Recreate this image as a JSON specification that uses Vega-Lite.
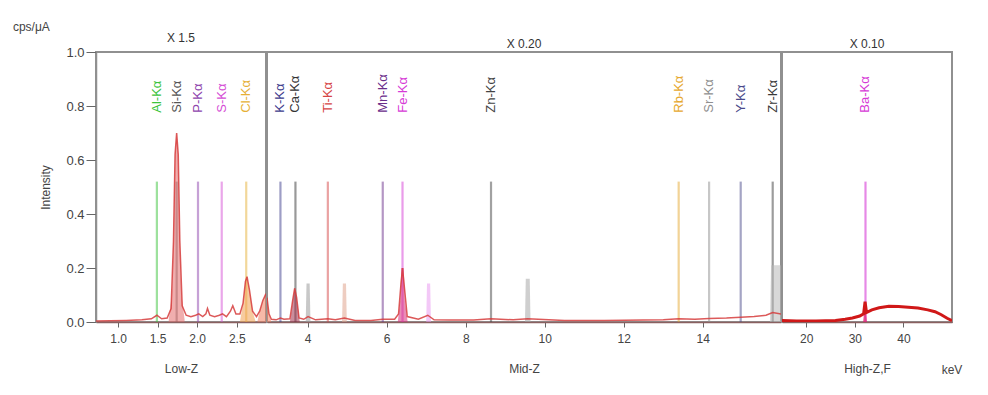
{
  "$schema": "https://vega.github.io/schema/vega-lite/v6.json",
  "padding": {"left": 12, "top": 21, "right": 10, "bottom": 5},
  "title": {"text": "cps/μA", "anchor": "start", "frame": "bounds", "dx": -26, "fontSize": 12, "fontWeight": "normal", "color": "#444", "offset": -3},
  "datasets": {
    "el": [
      {"p": "L", "x": 1.49, "lab": "Al-Kα"},
      {"p": "L", "x": 1.74, "lab": "Si-Kα"},
      {"p": "L", "x": 2.01, "lab": "P-Kα"},
      {"p": "L", "x": 2.31, "lab": "S-Kα"},
      {"p": "L", "x": 2.62, "lab": "Cl-Kα"},
      {"p": "M", "x": 3.31, "lab": "K-Kα"},
      {"p": "M", "x": 3.69, "lab": "Ca-Kα"},
      {"p": "M", "x": 4.51, "lab": "Ti-Kα"},
      {"p": "M", "x": 5.9, "lab": "Mn-Kα"},
      {"p": "M", "x": 6.4, "lab": "Fe-Kα"},
      {"p": "M", "x": 8.64, "lab": "Zn-Kα"},
      {"p": "M", "x": 13.39, "lab": "Rb-Kα"},
      {"p": "M", "x": 14.16, "lab": "Sr-Kα"},
      {"p": "M", "x": 14.96, "lab": "Y-Kα"},
      {"p": "M", "x": 15.77, "lab": "Zr-Kα"},
      {"p": "H", "x": 32.19, "lab": "Ba-Kα"}
    ],
    "pk": [
      {"p": "L", "k": "fSi", "x": 1.64, "y": 0.01},
      {"p": "L", "k": "fSi", "x": 1.68, "y": 0.1},
      {"p": "L", "k": "fSi", "x": 1.7, "y": 0.3},
      {"p": "L", "k": "fSi", "x": 1.72, "y": 0.62},
      {"p": "L", "k": "fSi", "x": 1.74, "y": 0.7},
      {"p": "L", "k": "fSi", "x": 1.76, "y": 0.62},
      {"p": "L", "k": "fSi", "x": 1.78, "y": 0.3},
      {"p": "L", "k": "fSi", "x": 1.8, "y": 0.1},
      {"p": "L", "k": "fSi", "x": 1.84, "y": 0.01},
      {"p": "L", "k": "fCl", "x": 2.54, "y": 0.0},
      {"p": "L", "k": "fCl", "x": 2.58, "y": 0.07},
      {"p": "L", "k": "fCl", "x": 2.61, "y": 0.15},
      {"p": "L", "k": "fCl", "x": 2.63, "y": 0.168},
      {"p": "L", "k": "fCl", "x": 2.66, "y": 0.12},
      {"p": "L", "k": "fCl", "x": 2.7, "y": 0.04},
      {"p": "L", "k": "fCl", "x": 2.74, "y": 0.0},
      {"p": "L", "k": "fEdge", "x": 2.76, "y": 0.0},
      {"p": "L", "k": "fEdge", "x": 2.79, "y": 0.04},
      {"p": "L", "k": "fEdge", "x": 2.83, "y": 0.08},
      {"p": "L", "k": "fEdge", "x": 2.87, "y": 0.105},
      {"p": "M", "k": "fEdge", "x": 2.97, "y": 0.09},
      {"p": "M", "k": "fEdge", "x": 3.02, "y": 0.03},
      {"p": "M", "k": "fEdge", "x": 3.08, "y": 0.0},
      {"p": "M", "k": "fCa", "x": 3.55, "y": 0.0},
      {"p": "M", "k": "fCa", "x": 3.62, "y": 0.08},
      {"p": "M", "k": "fCa", "x": 3.67, "y": 0.125},
      {"p": "M", "k": "fCa", "x": 3.72, "y": 0.09},
      {"p": "M", "k": "fCa", "x": 3.8, "y": 0.0},
      {"p": "M", "k": "fCaKb", "x": 3.95, "y": 0.0},
      {"p": "M", "k": "fCaKb", "x": 3.97, "y": 0.143},
      {"p": "M", "k": "fCaKb", "x": 4.05, "y": 0.143},
      {"p": "M", "k": "fCaKb", "x": 4.07, "y": 0.0},
      {"p": "M", "k": "fTiKb", "x": 4.87, "y": 0.0},
      {"p": "M", "k": "fTiKb", "x": 4.89, "y": 0.143},
      {"p": "M", "k": "fTiKb", "x": 4.97, "y": 0.143},
      {"p": "M", "k": "fTiKb", "x": 4.99, "y": 0.0},
      {"p": "M", "k": "fFe", "x": 6.28, "y": 0.0},
      {"p": "M", "k": "fFe", "x": 6.34, "y": 0.08},
      {"p": "M", "k": "fFe", "x": 6.37, "y": 0.2},
      {"p": "M", "k": "fFe", "x": 6.43, "y": 0.2},
      {"p": "M", "k": "fFe", "x": 6.46, "y": 0.08},
      {"p": "M", "k": "fFe", "x": 6.53, "y": 0.0},
      {"p": "M", "k": "fFeKb", "x": 7.0, "y": 0.0},
      {"p": "M", "k": "fFeKb", "x": 7.02, "y": 0.143},
      {"p": "M", "k": "fFeKb", "x": 7.1, "y": 0.143},
      {"p": "M", "k": "fFeKb", "x": 7.12, "y": 0.0},
      {"p": "M", "k": "fZnKb", "x": 9.5, "y": 0.0},
      {"p": "M", "k": "fZnKb", "x": 9.52, "y": 0.16},
      {"p": "M", "k": "fZnKb", "x": 9.62, "y": 0.16},
      {"p": "M", "k": "fZnKb", "x": 9.64, "y": 0.0},
      {"p": "M", "k": "fZr", "x": 15.7, "y": 0.0},
      {"p": "M", "k": "fZr", "x": 15.73, "y": 0.21},
      {"p": "M", "k": "fZr", "x": 15.98, "y": 0.21},
      {"p": "H", "k": "fBa", "x": 31.7, "y": 0.0},
      {"p": "H", "k": "fBa", "x": 32.1, "y": 0.075},
      {"p": "H", "k": "fBa", "x": 32.5, "y": 0.0}
    ],
    "sp": [
      {"p": "L", "x": 0.72, "y": 0.004},
      {"p": "L", "x": 0.9, "y": 0.005},
      {"p": "L", "x": 1.1, "y": 0.006},
      {"p": "L", "x": 1.3, "y": 0.008},
      {"p": "L", "x": 1.42, "y": 0.012},
      {"p": "L", "x": 1.49, "y": 0.025},
      {"p": "L", "x": 1.55, "y": 0.012},
      {"p": "L", "x": 1.62, "y": 0.015},
      {"p": "L", "x": 1.67, "y": 0.05},
      {"p": "L", "x": 1.7, "y": 0.3},
      {"p": "L", "x": 1.72, "y": 0.62},
      {"p": "L", "x": 1.74, "y": 0.7},
      {"p": "L", "x": 1.76, "y": 0.62},
      {"p": "L", "x": 1.78, "y": 0.3},
      {"p": "L", "x": 1.81, "y": 0.06},
      {"p": "L", "x": 1.86, "y": 0.025},
      {"p": "L", "x": 1.92, "y": 0.02},
      {"p": "L", "x": 1.98, "y": 0.025},
      {"p": "L", "x": 2.02, "y": 0.03},
      {"p": "L", "x": 2.07, "y": 0.02},
      {"p": "L", "x": 2.11, "y": 0.03},
      {"p": "L", "x": 2.13, "y": 0.05},
      {"p": "L", "x": 2.16, "y": 0.025},
      {"p": "L", "x": 2.22, "y": 0.02},
      {"p": "L", "x": 2.28, "y": 0.025},
      {"p": "L", "x": 2.32, "y": 0.03},
      {"p": "L", "x": 2.37, "y": 0.02},
      {"p": "L", "x": 2.42, "y": 0.04},
      {"p": "L", "x": 2.45, "y": 0.06},
      {"p": "L", "x": 2.49, "y": 0.03},
      {"p": "L", "x": 2.54, "y": 0.03},
      {"p": "L", "x": 2.58, "y": 0.07},
      {"p": "L", "x": 2.61, "y": 0.15},
      {"p": "L", "x": 2.63, "y": 0.168},
      {"p": "L", "x": 2.66, "y": 0.12},
      {"p": "L", "x": 2.7, "y": 0.04},
      {"p": "L", "x": 2.75, "y": 0.02},
      {"p": "L", "x": 2.79, "y": 0.04},
      {"p": "L", "x": 2.83, "y": 0.08},
      {"p": "L", "x": 2.87, "y": 0.105},
      {"p": "M", "x": 2.97, "y": 0.09},
      {"p": "M", "x": 3.02, "y": 0.03},
      {"p": "M", "x": 3.08, "y": 0.01},
      {"p": "M", "x": 3.2, "y": 0.008},
      {"p": "M", "x": 3.31, "y": 0.015},
      {"p": "M", "x": 3.4, "y": 0.01},
      {"p": "M", "x": 3.55, "y": 0.012},
      {"p": "M", "x": 3.62, "y": 0.08},
      {"p": "M", "x": 3.67, "y": 0.125},
      {"p": "M", "x": 3.72, "y": 0.09},
      {"p": "M", "x": 3.78, "y": 0.015},
      {"p": "M", "x": 3.9, "y": 0.01},
      {"p": "M", "x": 4.01, "y": 0.02},
      {"p": "M", "x": 4.2, "y": 0.008},
      {"p": "M", "x": 4.51, "y": 0.012},
      {"p": "M", "x": 4.7, "y": 0.008},
      {"p": "M", "x": 4.93, "y": 0.015},
      {"p": "M", "x": 5.2, "y": 0.006},
      {"p": "M", "x": 5.6, "y": 0.006},
      {"p": "M", "x": 5.9, "y": 0.01},
      {"p": "M", "x": 6.2, "y": 0.01},
      {"p": "M", "x": 6.3, "y": 0.03},
      {"p": "M", "x": 6.36, "y": 0.14},
      {"p": "M", "x": 6.4, "y": 0.2},
      {"p": "M", "x": 6.44, "y": 0.14},
      {"p": "M", "x": 6.52, "y": 0.02},
      {"p": "M", "x": 6.8, "y": 0.01},
      {"p": "M", "x": 7.04, "y": 0.025},
      {"p": "M", "x": 7.2, "y": 0.008},
      {"p": "M", "x": 7.6, "y": 0.007},
      {"p": "M", "x": 8.2, "y": 0.007},
      {"p": "M", "x": 8.64, "y": 0.012},
      {"p": "M", "x": 9.2, "y": 0.008},
      {"p": "M", "x": 9.57, "y": 0.012},
      {"p": "M", "x": 10.5, "y": 0.006},
      {"p": "M", "x": 11.5, "y": 0.006},
      {"p": "M", "x": 12.5, "y": 0.007},
      {"p": "M", "x": 13.0, "y": 0.008},
      {"p": "M", "x": 13.39, "y": 0.012},
      {"p": "M", "x": 13.8, "y": 0.01},
      {"p": "M", "x": 14.16, "y": 0.013},
      {"p": "M", "x": 14.6, "y": 0.015},
      {"p": "M", "x": 14.96, "y": 0.018},
      {"p": "M", "x": 15.3, "y": 0.02},
      {"p": "M", "x": 15.6, "y": 0.025},
      {"p": "M", "x": 15.77, "y": 0.035},
      {"p": "M", "x": 15.98, "y": 0.03},
      {"p": "H", "x": 15.0, "y": 0.006},
      {"p": "H", "x": 18.0, "y": 0.004},
      {"p": "H", "x": 22.0, "y": 0.004},
      {"p": "H", "x": 26.0, "y": 0.006},
      {"p": "H", "x": 28.0, "y": 0.01},
      {"p": "H", "x": 29.5, "y": 0.015},
      {"p": "H", "x": 31.0, "y": 0.022},
      {"p": "H", "x": 31.8, "y": 0.03},
      {"p": "H", "x": 32.1, "y": 0.075},
      {"p": "H", "x": 32.4, "y": 0.035},
      {"p": "H", "x": 33.5, "y": 0.045},
      {"p": "H", "x": 35.0, "y": 0.053},
      {"p": "H", "x": 37.0, "y": 0.058},
      {"p": "H", "x": 39.0, "y": 0.057},
      {"p": "H", "x": 41.0, "y": 0.055},
      {"p": "H", "x": 43.0, "y": 0.052},
      {"p": "H", "x": 45.0, "y": 0.045},
      {"p": "H", "x": 46.5, "y": 0.038},
      {"p": "H", "x": 47.8, "y": 0.027},
      {"p": "H", "x": 49.0, "y": 0.014},
      {"p": "H", "x": 50.0, "y": 0.005}
    ],
    "unit": [{"x": 50, "t": "keV"}]
  },
  "spacing": -2,
  "hconcat": [
    {
      "width": 170, "height": 270,
      "title": {"text": "X 1.5"},
      "layer": [
        {
          "data": {"name": "el"}, "transform": [{"filter": "datum.p == 'L'"}],
          "mark": {"type": "rule", "strokeWidth": 2.2, "opacity": 0.5},
          "encoding": {
            "x": {"field": "x", "type": "quantitative", "scale": {"domain": [0.72, 2.87], "nice": false, "zero": false}, "axis": {"title": "Low-Z", "values": [1.0, 1.5, 2.0, 2.5], "format": ".1f"}},
            "y": {"datum": 0, "type": "quantitative", "scale": {"domain": [0, 1], "nice": false}, "axis": {"title": "Intensity", "values": [0, 0.2, 0.4, 0.6, 0.8, 1.0], "format": ".1f", "tickSize": 10, "labelPadding": 2, "titlePadding": 13, "labelFontSize": 13}},
            "y2": {"datum": 0.52},
            "color": {"field": "lab", "type": "nominal", "legend": null, "scale": {"domain": ["Al-Kα","Si-Kα","P-Kα","S-Kα","Cl-Kα","K-Kα","Ca-Kα","Ti-Kα","Mn-Kα","Fe-Kα","Zn-Kα","Rb-Kα","Sr-Kα","Y-Kα","Zr-Kα","Ba-Kα","fSi","fCl","fEdge","fCa","fCaKb","fTiKb","fFe","fFeKb","fZnKb","fZr","fBa"], "range": ["#3cc43c","#555555","#8e44ad","#d54ed5","#e6b035","#3c3c8c","#333333","#d64545","#6a2d8a","#d63ad6","#444444","#e6a82e","#8f8f8f","#4a4a8a","#3a3a3a","#d63ad6","#e36b6b","#f0a050","#f08060","#a0304a","#9a9a9a","#e0a48e","#d82c7a","#ea9af0","#a8a8a8","#b8b8b8","#e0206a"]}}
          }
        },
        {
          "data": {"name": "pk"}, "transform": [{"filter": "datum.p == 'L'"}],
          "mark": {"type": "area", "opacity": 0.55, "clip": true},
          "encoding": {
            "x": {"field": "x", "type": "quantitative", "scale": {"domain": [0.72, 2.87], "nice": false, "zero": false}},
            "y": {"field": "y", "type": "quantitative", "stack": null, "scale": {"domain": [0, 1], "nice": false}},
            "color": {"field": "k", "type": "nominal", "legend": null, "scale": {"domain": ["Al-Kα","Si-Kα","P-Kα","S-Kα","Cl-Kα","K-Kα","Ca-Kα","Ti-Kα","Mn-Kα","Fe-Kα","Zn-Kα","Rb-Kα","Sr-Kα","Y-Kα","Zr-Kα","Ba-Kα","fSi","fCl","fEdge","fCa","fCaKb","fTiKb","fFe","fFeKb","fZnKb","fZr","fBa"], "range": ["#3cc43c","#555555","#8e44ad","#d54ed5","#e6b035","#3c3c8c","#333333","#d64545","#6a2d8a","#d63ad6","#444444","#e6a82e","#8f8f8f","#4a4a8a","#3a3a3a","#d63ad6","#e36b6b","#f0a050","#f08060","#a0304a","#9a9a9a","#e0a48e","#d82c7a","#ea9af0","#a8a8a8","#b8b8b8","#e0206a"]}}
          }
        },
        {
          "data": {"name": "sp"}, "transform": [{"filter": "datum.p == 'L'"}],
          "mark": {"type": "line", "color": "#d63c3c", "strokeWidth": 1.5, "opacity": 0.85, "clip": true},
          "encoding": {
            "x": {"field": "x", "type": "quantitative", "scale": {"domain": [0.72, 2.87], "nice": false, "zero": false}},
            "y": {"field": "y", "type": "quantitative", "scale": {"domain": [0, 1], "nice": false}}
          }
        },
        {
          "data": {"name": "el"}, "transform": [{"filter": "datum.p == 'L'"}],
          "mark": {"type": "text", "angle": 270, "align": "left", "baseline": "middle", "fontSize": 13},
          "encoding": {
            "x": {"field": "x", "type": "quantitative", "scale": {"domain": [0.72, 2.87], "nice": false, "zero": false}},
            "y": {"datum": 0.775, "type": "quantitative", "scale": {"domain": [0, 1], "nice": false}},
            "text": {"field": "lab"},
            "color": {"field": "lab", "type": "nominal", "legend": null, "scale": {"domain": ["Al-Kα","Si-Kα","P-Kα","S-Kα","Cl-Kα","K-Kα","Ca-Kα","Ti-Kα","Mn-Kα","Fe-Kα","Zn-Kα","Rb-Kα","Sr-Kα","Y-Kα","Zr-Kα","Ba-Kα","fSi","fCl","fEdge","fCa","fCaKb","fTiKb","fFe","fFeKb","fZnKb","fZr","fBa"], "range": ["#3cc43c","#555555","#8e44ad","#d54ed5","#e6b035","#3c3c8c","#333333","#d64545","#6a2d8a","#d63ad6","#444444","#e6a82e","#8f8f8f","#4a4a8a","#3a3a3a","#d63ad6","#e36b6b","#f0a050","#f08060","#a0304a","#9a9a9a","#e0a48e","#d82c7a","#ea9af0","#a8a8a8","#b8b8b8","#e0206a"]}}
          }
        }
      ]
    },
    {
      "width": 514, "height": 270,
      "title": {"text": "X 0.20"},
      "layer": [
        {
          "data": {"name": "el"}, "transform": [{"filter": "datum.p == 'M'"}],
          "mark": {"type": "rule", "strokeWidth": 2.2, "opacity": 0.5},
          "encoding": {
            "x": {"field": "x", "type": "quantitative", "scale": {"domain": [2.97, 15.98], "nice": false, "zero": false}, "axis": {"title": "Mid-Z", "values": [4, 6, 8, 10, 12, 14], "format": "d"}},
            "y": {"datum": 0, "type": "quantitative", "scale": {"domain": [0, 1], "nice": false}, "axis": null},
            "y2": {"datum": 0.52},
            "color": {"field": "lab", "type": "nominal", "legend": null, "scale": {"domain": ["Al-Kα","Si-Kα","P-Kα","S-Kα","Cl-Kα","K-Kα","Ca-Kα","Ti-Kα","Mn-Kα","Fe-Kα","Zn-Kα","Rb-Kα","Sr-Kα","Y-Kα","Zr-Kα","Ba-Kα","fSi","fCl","fEdge","fCa","fCaKb","fTiKb","fFe","fFeKb","fZnKb","fZr","fBa"], "range": ["#3cc43c","#555555","#8e44ad","#d54ed5","#e6b035","#3c3c8c","#333333","#d64545","#6a2d8a","#d63ad6","#444444","#e6a82e","#8f8f8f","#4a4a8a","#3a3a3a","#d63ad6","#e36b6b","#f0a050","#f08060","#a0304a","#9a9a9a","#e0a48e","#d82c7a","#ea9af0","#a8a8a8","#b8b8b8","#e0206a"]}}
          }
        },
        {
          "data": {"name": "pk"}, "transform": [{"filter": "datum.p == 'M'"}],
          "mark": {"type": "area", "opacity": 0.55, "clip": true},
          "encoding": {
            "x": {"field": "x", "type": "quantitative", "scale": {"domain": [2.97, 15.98], "nice": false, "zero": false}},
            "y": {"field": "y", "type": "quantitative", "stack": null, "scale": {"domain": [0, 1], "nice": false}},
            "color": {"field": "k", "type": "nominal", "legend": null, "scale": {"domain": ["Al-Kα","Si-Kα","P-Kα","S-Kα","Cl-Kα","K-Kα","Ca-Kα","Ti-Kα","Mn-Kα","Fe-Kα","Zn-Kα","Rb-Kα","Sr-Kα","Y-Kα","Zr-Kα","Ba-Kα","fSi","fCl","fEdge","fCa","fCaKb","fTiKb","fFe","fFeKb","fZnKb","fZr","fBa"], "range": ["#3cc43c","#555555","#8e44ad","#d54ed5","#e6b035","#3c3c8c","#333333","#d64545","#6a2d8a","#d63ad6","#444444","#e6a82e","#8f8f8f","#4a4a8a","#3a3a3a","#d63ad6","#e36b6b","#f0a050","#f08060","#a0304a","#9a9a9a","#e0a48e","#d82c7a","#ea9af0","#a8a8a8","#b8b8b8","#e0206a"]}}
          }
        },
        {
          "data": {"name": "sp"}, "transform": [{"filter": "datum.p == 'M'"}],
          "mark": {"type": "line", "color": "#d63c3c", "strokeWidth": 1.5, "opacity": 0.85, "clip": true},
          "encoding": {
            "x": {"field": "x", "type": "quantitative", "scale": {"domain": [2.97, 15.98], "nice": false, "zero": false}},
            "y": {"field": "y", "type": "quantitative", "scale": {"domain": [0, 1], "nice": false}}
          }
        },
        {
          "data": {"name": "el"}, "transform": [{"filter": "datum.p == 'M'"}],
          "mark": {"type": "text", "angle": 270, "align": "left", "baseline": "middle", "fontSize": 13},
          "encoding": {
            "x": {"field": "x", "type": "quantitative", "scale": {"domain": [2.97, 15.98], "nice": false, "zero": false}},
            "y": {"datum": 0.775, "type": "quantitative", "scale": {"domain": [0, 1], "nice": false}},
            "text": {"field": "lab"},
            "color": {"field": "lab", "type": "nominal", "legend": null, "scale": {"domain": ["Al-Kα","Si-Kα","P-Kα","S-Kα","Cl-Kα","K-Kα","Ca-Kα","Ti-Kα","Mn-Kα","Fe-Kα","Zn-Kα","Rb-Kα","Sr-Kα","Y-Kα","Zr-Kα","Ba-Kα","fSi","fCl","fEdge","fCa","fCaKb","fTiKb","fFe","fFeKb","fZnKb","fZr","fBa"], "range": ["#3cc43c","#555555","#8e44ad","#d54ed5","#e6b035","#3c3c8c","#333333","#d64545","#6a2d8a","#d63ad6","#444444","#e6a82e","#8f8f8f","#4a4a8a","#3a3a3a","#d63ad6","#e36b6b","#f0a050","#f08060","#a0304a","#9a9a9a","#e0a48e","#d82c7a","#ea9af0","#a8a8a8","#b8b8b8","#e0206a"]}}
          }
        }
      ]
    },
    {
      "width": 170, "height": 270,
      "title": {"text": "X 0.10"},
      "layer": [
        {
          "data": {"name": "el"}, "transform": [{"filter": "datum.p == 'H'"}],
          "mark": {"type": "rule", "strokeWidth": 2.2, "opacity": 0.6},
          "encoding": {
            "x": {"field": "x", "type": "quantitative", "scale": {"domain": [15, 50], "nice": false, "zero": false}, "axis": {"title": "High-Z,F", "values": [20, 30, 40], "format": "d"}},
            "y": {"datum": 0, "type": "quantitative", "scale": {"domain": [0, 1], "nice": false}, "axis": null},
            "y2": {"datum": 0.52},
            "color": {"field": "lab", "type": "nominal", "legend": null, "scale": {"domain": ["Al-Kα","Si-Kα","P-Kα","S-Kα","Cl-Kα","K-Kα","Ca-Kα","Ti-Kα","Mn-Kα","Fe-Kα","Zn-Kα","Rb-Kα","Sr-Kα","Y-Kα","Zr-Kα","Ba-Kα","fSi","fCl","fEdge","fCa","fCaKb","fTiKb","fFe","fFeKb","fZnKb","fZr","fBa"], "range": ["#3cc43c","#555555","#8e44ad","#d54ed5","#e6b035","#3c3c8c","#333333","#d64545","#6a2d8a","#d63ad6","#444444","#e6a82e","#8f8f8f","#4a4a8a","#3a3a3a","#d63ad6","#e36b6b","#f0a050","#f08060","#a0304a","#9a9a9a","#e0a48e","#d82c7a","#ea9af0","#a8a8a8","#b8b8b8","#e0206a"]}}
          }
        },
        {
          "data": {"name": "pk"}, "transform": [{"filter": "datum.p == 'H'"}],
          "mark": {"type": "area", "opacity": 0.7, "clip": true},
          "encoding": {
            "x": {"field": "x", "type": "quantitative", "scale": {"domain": [15, 50], "nice": false, "zero": false}},
            "y": {"field": "y", "type": "quantitative", "stack": null, "scale": {"domain": [0, 1], "nice": false}},
            "color": {"field": "k", "type": "nominal", "legend": null, "scale": {"domain": ["Al-Kα","Si-Kα","P-Kα","S-Kα","Cl-Kα","K-Kα","Ca-Kα","Ti-Kα","Mn-Kα","Fe-Kα","Zn-Kα","Rb-Kα","Sr-Kα","Y-Kα","Zr-Kα","Ba-Kα","fSi","fCl","fEdge","fCa","fCaKb","fTiKb","fFe","fFeKb","fZnKb","fZr","fBa"], "range": ["#3cc43c","#555555","#8e44ad","#d54ed5","#e6b035","#3c3c8c","#333333","#d64545","#6a2d8a","#d63ad6","#444444","#e6a82e","#8f8f8f","#4a4a8a","#3a3a3a","#d63ad6","#e36b6b","#f0a050","#f08060","#a0304a","#9a9a9a","#e0a48e","#d82c7a","#ea9af0","#a8a8a8","#b8b8b8","#e0206a"]}}
          }
        },
        {
          "data": {"name": "sp"}, "transform": [{"filter": "datum.p == 'H'"}],
          "mark": {"type": "line", "color": "#d01818", "strokeWidth": 3, "clip": true},
          "encoding": {
            "x": {"field": "x", "type": "quantitative", "scale": {"domain": [15, 50], "nice": false, "zero": false}},
            "y": {"field": "y", "type": "quantitative", "scale": {"domain": [0, 1], "nice": false}}
          }
        },
        {
          "data": {"name": "el"}, "transform": [{"filter": "datum.p == 'H'"}],
          "mark": {"type": "text", "angle": 270, "align": "left", "baseline": "middle", "fontSize": 13},
          "encoding": {
            "x": {"field": "x", "type": "quantitative", "scale": {"domain": [15, 50], "nice": false, "zero": false}},
            "y": {"datum": 0.775, "type": "quantitative", "scale": {"domain": [0, 1], "nice": false}},
            "text": {"field": "lab"},
            "color": {"field": "lab", "type": "nominal", "legend": null, "scale": {"domain": ["Al-Kα","Si-Kα","P-Kα","S-Kα","Cl-Kα","K-Kα","Ca-Kα","Ti-Kα","Mn-Kα","Fe-Kα","Zn-Kα","Rb-Kα","Sr-Kα","Y-Kα","Zr-Kα","Ba-Kα","fSi","fCl","fEdge","fCa","fCaKb","fTiKb","fFe","fFeKb","fZnKb","fZr","fBa"], "range": ["#3cc43c","#555555","#8e44ad","#d54ed5","#e6b035","#3c3c8c","#333333","#d64545","#6a2d8a","#d63ad6","#444444","#e6a82e","#8f8f8f","#4a4a8a","#3a3a3a","#d63ad6","#e36b6b","#f0a050","#f08060","#a0304a","#9a9a9a","#e0a48e","#d82c7a","#ea9af0","#a8a8a8","#b8b8b8","#e0206a"]}}
          }
        },
        {
          "data": {"name": "unit"},
          "mark": {"type": "text", "align": "center", "baseline": "middle", "dy": 48, "dx": 0, "fontSize": 12, "color": "#444"},
          "encoding": {
            "x": {"field": "x", "type": "quantitative", "scale": {"domain": [15, 50], "nice": false, "zero": false}},
            "y": {"datum": 0, "type": "quantitative", "scale": {"domain": [0, 1], "nice": false}},
            "text": {"field": "t"}
          }
        }
      ]
    }
  ],
  "config": {
    "font": "Liberation Sans",
    "background": "white",
    "view": {"stroke": "#909090", "strokeWidth": 2},
    "title": {"fontSize": 12, "fontWeight": "normal", "color": "#333", "offset": 1},
    "axis": {"grid": false, "labelFontSize": 12, "labelColor": "#444", "titleFontSize": 12, "titleFontWeight": "normal", "titleColor": "#444", "tickColor": "#666", "domainColor": "#8a6060", "domainWidth": 1.5},
    "axisX": {"tickSize": 5, "labelPadding": 6, "titlePadding": 19},
    "axisY": {"domainColor": "#909090"}
  }
}
